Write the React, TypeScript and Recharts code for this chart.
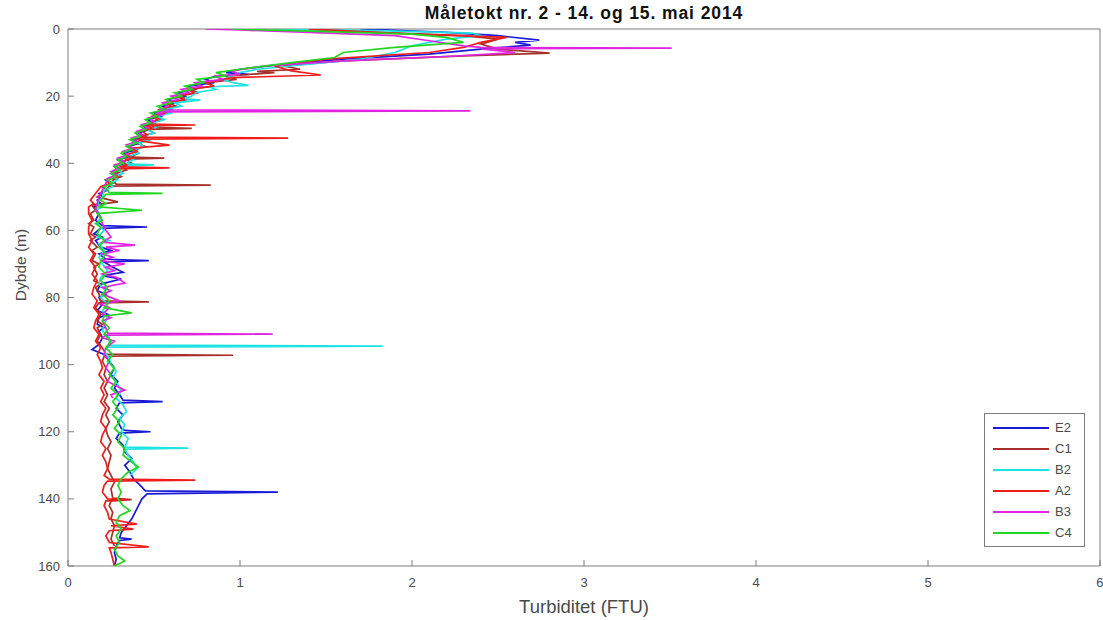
import React from 'react';
import { ScatterChart, Scatter, XAxis, YAxis, Legend, Label } from 'recharts';

const TITLE = 'Måletokt nr. 2 - 14. og 15. mai 2014';
const X_LABEL = 'Turbiditet (FTU)';
const Y_LABEL = 'Dybde (m)';
const X_TICKS = [0, 1, 2, 3, 4, 5, 6];
const Y_TICKS = [0, 20, 40, 60, 80, 100, 120, 140, 160];

// [depth (m), turbidity (FTU)]
const E2: [number, number][] = [
  [0, 1.7], [1, 2.2], [2, 2.5], [3.3, 2.74], [4, 2.6], [4.8, 2.69], [6, 2.4], [7.5, 2.1], [9, 1.6], [10.5, 1.25],
  [12, 1.0], [13, 0.92], [13.5, 1.05], [14, 0.86], [15, 0.8], [16, 0.85], [17, 0.7], [18, 0.74], [19, 0.64], [20, 0.68],
  [21, 0.58], [22, 0.62], [23, 0.55], [24, 0.6], [25, 0.5], [26, 0.54], [27, 0.46], [28, 0.5], [29, 0.44], [30, 0.47],
  [31, 0.41], [32, 0.45], [33, 0.38], [34, 0.42], [35, 0.35], [36, 0.4], [37, 0.32], [38, 0.36], [39, 0.29], [40, 0.33],
  [41, 0.27], [42, 0.3], [43, 0.25], [44, 0.28], [45, 0.22], [46, 0.26], [47, 0.2], [48, 0.23], [49, 0.18], [50, 0.2],
  [51, 0.17], [52, 0.19], [53, 0.15], [55, 0.18], [57, 0.16], [58.6, 0.2], [59, 0.46], [59.4, 0.19], [61, 0.15], [62, 0.2],
  [63, 0.16], [65, 0.19], [66, 0.25], [67, 0.18], [68.6, 0.22], [69, 0.47], [69.4, 0.21], [71, 0.26], [72.5, 0.32], [73.5, 0.2],
  [74.5, 0.31], [76, 0.19], [78, 0.17], [79, 0.22], [80, 0.18], [82, 0.2], [84, 0.17], [85, 0.23], [86, 0.18], [88, 0.17],
  [89, 0.21], [90, 0.18], [92, 0.2], [94, 0.18], [95.5, 0.14], [97, 0.21], [99, 0.24], [101, 0.27], [103, 0.25], [105, 0.29],
  [107, 0.27], [109, 0.3], [110.6, 0.32], [111, 0.55], [111.4, 0.3], [113, 0.28], [115, 0.32], [117, 0.29], [119, 0.31], [119.6, 0.33],
  [120, 0.48], [120.4, 0.3], [122, 0.28], [124, 0.32], [126, 0.33], [128, 0.37], [130, 0.33], [132, 0.36], [134, 0.38], [136, 0.42],
  [137.6, 0.45], [138, 1.22], [138.5, 0.46], [140, 0.43], [142, 0.41], [144, 0.39], [146, 0.37], [148, 0.34], [150, 0.31], [151.6, 0.3],
  [152, 0.37], [152.4, 0.3], [154, 0.28], [156, 0.27], [158, 0.28], [160, 0.27],
];

const C1: [number, number][] = [
  [0, 1.3], [1, 1.8], [2, 2.3], [3, 2.5], [4.5, 2.4], [6, 2.5], [7.2, 2.8], [8, 2.3], [9.5, 1.6], [11, 1.25],
  [12, 1.35], [12.6, 1.1], [13, 1.2], [14, 0.92], [15, 0.98], [16, 0.8], [17, 0.85], [18, 0.7], [19, 0.76], [20, 0.64],
  [21, 0.7], [22, 0.58], [23, 0.63], [24, 0.54], [25, 0.58], [26, 0.5], [27, 0.55], [28, 0.48], [29.3, 0.5], [29.6, 0.72],
  [29.9, 0.46], [31, 0.5], [32, 0.42], [33, 0.47], [34, 0.4], [35, 0.45], [36, 0.37], [37, 0.41], [38.2, 0.36], [38.5, 0.56],
  [38.8, 0.34], [40, 0.37], [41, 0.31], [42, 0.34], [43, 0.28], [44, 0.31], [45, 0.26], [46.2, 0.28], [46.5, 0.83], [46.8, 0.24],
  [48, 0.22], [49, 0.2], [50, 0.17], [51.5, 0.29], [52.5, 0.14], [54, 0.16], [55, 0.13], [57, 0.15], [58, 0.12], [59, 0.15],
  [61, 0.13], [62, 0.16], [63, 0.13], [65, 0.17], [66, 0.14], [67, 0.16], [69, 0.14], [70, 0.18], [71, 0.15], [73, 0.17],
  [75, 0.15], [76, 0.19], [77, 0.16], [79, 0.18], [81, 0.19], [81.3, 0.47], [81.6, 0.18], [83, 0.16], [85, 0.19], [87, 0.17],
  [88, 0.2], [89, 0.17], [91, 0.19], [93, 0.17], [95, 0.2], [96.9, 0.22], [97.2, 0.96], [97.5, 0.21], [99, 0.2], [101, 0.22],
  [103, 0.21], [105, 0.23], [107, 0.21], [109, 0.23], [111, 0.21], [113, 0.24], [115, 0.22], [117, 0.24], [119, 0.22], [121, 0.23],
  [123, 0.25], [125, 0.23], [127, 0.25], [129, 0.24], [131, 0.23], [133, 0.25], [135, 0.27], [137, 0.25], [139.8, 0.26], [140.2, 0.37],
  [140.6, 0.25], [142, 0.24], [144, 0.26], [146, 0.25], [148, 0.27], [150, 0.26], [152, 0.25], [154, 0.27],
];

const B2: [number, number][] = [
  [0, 1.2], [0.5, 1.8], [1.2, 2.35], [2, 2.4], [3, 2.2], [5, 2.0], [7, 1.9], [9, 1.7], [10.5, 1.4], [12, 1.1],
  [13, 1.0], [14, 0.95], [15, 0.9], [16, 0.96], [16.8, 1.05], [17.2, 0.82], [18, 0.86], [19, 0.74], [20, 0.72], [20.8, 0.68],
  [21.2, 0.77], [22, 0.62], [23, 0.66], [24, 0.56], [25, 0.6], [26, 0.52], [27, 0.56], [28, 0.49], [29, 0.53], [30, 0.46],
  [31, 0.5], [32, 0.43], [33, 0.47], [34, 0.41], [35, 0.44], [36, 0.38], [37, 0.41], [38, 0.35], [39, 0.38], [40.2, 0.33],
  [40.5, 0.5], [40.8, 0.32], [42, 0.29], [43, 0.32], [44, 0.27], [45, 0.29], [46, 0.24], [47, 0.26], [48, 0.21], [50, 0.2],
  [52, 0.17], [53, 0.2], [54, 0.16], [56, 0.19], [58, 0.17], [60, 0.21], [62, 0.17], [63, 0.24], [64, 0.18], [66, 0.21],
  [68, 0.18], [70, 0.2], [72, 0.23], [74, 0.19], [76, 0.18], [78, 0.22], [80, 0.19], [82, 0.23], [84, 0.2], [86, 0.23],
  [88, 0.21], [90, 0.2], [92, 0.24], [94.2, 0.24], [94.5, 1.83], [94.8, 0.23], [96, 0.21], [98, 0.24], [100, 0.25], [102, 0.28],
  [104, 0.26], [106, 0.29], [108, 0.31], [110, 0.28], [112, 0.32], [114, 0.34], [116, 0.3], [118, 0.33], [120, 0.31], [122, 0.35],
  [124.6, 0.33], [124.9, 0.7], [125.2, 0.33], [127, 0.35], [129, 0.38], [131, 0.4], [133, 0.36],
];

const A2: [number, number][] = [
  [0, 1.4], [1.5, 2.0], [2.5, 2.55], [4, 2.4], [5.5, 2.3], [7, 2.1], [9, 1.5], [11, 1.2], [12.5, 1.3], [13.7, 1.47],
  [14.5, 0.95], [15.5, 0.86], [16, 0.8], [17, 0.84], [18, 0.7], [19, 0.73], [20, 0.63], [21, 0.67], [22, 0.57], [23, 0.6],
  [24, 0.53], [25, 0.56], [26, 0.49], [27, 0.52], [28.3, 0.47], [28.6, 0.74], [28.9, 0.45], [29.5, 0.49], [30.5, 0.43], [31.5, 0.46],
  [32.2, 0.41], [32.5, 1.28], [32.8, 0.4], [33.5, 0.44], [34.6, 0.59], [35.5, 0.37], [36.5, 0.4], [37.5, 0.34], [38.5, 0.37], [39.5, 0.31],
  [40.5, 0.34], [41.1, 0.3], [41.4, 0.59], [41.7, 0.28], [43, 0.26], [44, 0.29], [45, 0.22], [46, 0.24], [47, 0.19], [49, 0.16],
  [51, 0.13], [52, 0.15], [53, 0.12], [55, 0.12], [57, 0.14], [59, 0.12], [61, 0.12], [63, 0.14], [65, 0.12], [67, 0.15],
  [69, 0.13], [71, 0.16], [73, 0.14], [75, 0.17], [77, 0.15], [79, 0.14], [81, 0.17], [83, 0.15], [85, 0.18], [87, 0.16],
  [89, 0.15], [91, 0.18], [93, 0.16], [95, 0.19], [97, 0.17], [99, 0.19], [101, 0.2], [103, 0.18], [105, 0.21], [107, 0.19],
  [109, 0.21], [111, 0.19], [113, 0.22], [115, 0.2], [117, 0.19], [119, 0.22], [121, 0.2], [123, 0.19], [125, 0.22], [127, 0.2],
  [129, 0.22], [131, 0.23], [133, 0.21], [134.1, 0.24], [134.4, 0.74], [134.7, 0.23], [136, 0.21], [138, 0.2], [140, 0.23], [140.3, 0.34],
  [140.6, 0.22], [142, 0.21], [144, 0.23], [146, 0.24], [147.5, 0.4], [148, 0.25], [149, 0.38], [149.5, 0.24], [151, 0.22], [153, 0.24],
  [154.3, 0.47], [154.6, 0.24], [156, 0.25], [158, 0.26], [160, 0.27],
];

const B3: [number, number][] = [
  [0, 0.8], [0.3, 1.0], [1, 1.4], [2, 1.9], [3.5, 2.1], [5, 2.3], [5.5, 2.4], [5.7, 3.51], [5.9, 2.4], [7, 2.6],
  [8.2, 2.2], [9.5, 1.6], [11, 1.15], [12, 1.02], [12.5, 0.95], [13.5, 1.0], [14, 0.85], [15, 0.9], [16, 0.74], [17, 0.78],
  [18, 0.66], [19, 0.7], [20, 0.6], [21, 0.64], [22, 0.55], [23, 0.58], [24.1, 0.53], [24.4, 2.34], [24.7, 0.51], [25.5, 0.55],
  [26.5, 0.47], [27.5, 0.5], [28.5, 0.43], [29.5, 0.46], [30.5, 0.4], [31.5, 0.43], [32.5, 0.37], [33.5, 0.4], [34.5, 0.34], [35.5, 0.38],
  [36.5, 0.32], [37.5, 0.35], [38.5, 0.29], [39.5, 0.33], [40.5, 0.27], [41.5, 0.3], [42.5, 0.25], [43.5, 0.28], [44.5, 0.23], [46, 0.22],
  [48, 0.2], [50, 0.18], [52, 0.17], [54, 0.16], [56, 0.19], [58, 0.2], [60, 0.22], [62, 0.25], [63.5, 0.2], [64.4, 0.39],
  [65, 0.22], [66, 0.3], [67, 0.2], [68, 0.26], [69, 0.19], [70, 0.33], [71, 0.22], [72, 0.27], [73, 0.2], [74, 0.28],
  [75.7, 0.33], [77, 0.2], [78, 0.25], [79, 0.2], [81, 0.3], [82, 0.19], [83, 0.24], [85, 0.2], [86, 0.25], [87, 0.2],
  [89, 0.22], [90.6, 0.23], [90.9, 1.19], [91.2, 0.22], [92, 0.2], [93, 0.27], [95, 0.22], [97, 0.21], [99, 0.24], [101, 0.22],
  [103, 0.25], [105, 0.23], [107.6, 0.33], [109, 0.25], [110, 0.26],
];

const C4: [number, number][] = [
  [0, 0.95], [0.5, 1.3], [1.5, 2.0], [2.5, 2.2], [4, 2.3], [5.5, 1.9], [7, 1.6], [8.5, 1.55], [10, 1.3], [12, 1.0],
  [13, 0.86], [14, 0.92], [15, 0.75], [16, 0.79], [17, 0.68], [18, 0.72], [19, 0.62], [20, 0.66], [21, 0.57], [22, 0.6],
  [23, 0.52], [24, 0.56], [25, 0.48], [26, 0.52], [27, 0.45], [28, 0.48], [29, 0.42], [30, 0.45], [31, 0.39], [32, 0.42],
  [33, 0.36], [34, 0.4], [35, 0.34], [36, 0.37], [37, 0.31], [38, 0.34], [39, 0.29], [40, 0.32], [41, 0.27], [42, 0.3],
  [43, 0.25], [44, 0.28], [45, 0.23], [46, 0.26], [47, 0.21], [48.7, 0.24], [49, 0.55], [49.3, 0.22], [51, 0.19], [52, 0.22],
  [53, 0.18], [54, 0.43], [55, 0.17], [57, 0.2], [58, 0.16], [59, 0.19], [61, 0.17], [63, 0.21], [65, 0.18], [67, 0.22],
  [69, 0.19], [71, 0.18], [73, 0.22], [75, 0.19], [77, 0.23], [79, 0.2], [81, 0.24], [83, 0.21], [84.6, 0.37], [85.5, 0.21],
  [87, 0.2], [89, 0.24], [91, 0.21], [93, 0.25], [95, 0.22], [97, 0.26], [99, 0.23], [101, 0.27], [103, 0.24], [105, 0.28],
  [107, 0.25], [109, 0.29], [111, 0.26], [113, 0.29], [115, 0.26], [117, 0.3], [119, 0.27], [121, 0.31], [123, 0.29], [125, 0.33],
  [127, 0.32], [129, 0.37], [130.5, 0.41], [132, 0.35], [134, 0.31], [136, 0.29], [138, 0.31], [140, 0.29], [142, 0.32], [143.5, 0.36],
  [145, 0.3], [147, 0.28], [149, 0.31], [151, 0.28], [153, 0.3], [155, 0.27], [157, 0.29], [158.5, 0.33], [160, 0.27],
];

const SERIES = [
  { name: 'E2', color: '#1a1ad6', data: E2 },
  { name: 'C1', color: '#a8302a', data: C1 },
  { name: 'B2', color: '#1ee3e3', data: B2 },
  { name: 'A2', color: '#f01c1c', data: A2 },
  { name: 'B3', color: '#e024e0', data: B3 },
  { name: 'C4', color: '#22d622', data: C4 },
];

const FONT = '"Liberation Sans", Arial, Helvetica, sans-serif';
const AXIS_COLOR = '#7d7d7d';
const TEXT_COLOR = '#4a4a4a';

const NoShape = () => <g />;

const LegendBox = () => (
  <div
    style={{
      border: `1px solid ${AXIS_COLOR}`,
      background: '#fff',
      padding: '3px 0',
      fontFamily: FONT,
      fontSize: 13,
      color: TEXT_COLOR,
      boxSizing: 'border-box',
      width: 101,
    }}
  >
    {SERIES.map((s) => (
      <div key={s.name} style={{ display: 'flex', alignItems: 'center', height: 21 }}>
        <svg width={66} height={10} style={{ display: 'block' }}>
          <line x1={8} x2={64} y1={5} y2={5} stroke={s.color} strokeWidth={1.8} />
        </svg>
        <span style={{ marginLeft: 4 }}>{s.name}</span>
      </div>
    ))}
  </div>
);

const YLabel = () => (
  <text
    x={20}
    y={265}
    transform="rotate(-90 20 265)"
    textAnchor="middle"
    dominantBaseline="central"
    fill={TEXT_COLOR}
    fontSize={15.5}
    fontFamily={FONT}
  >
    {Y_LABEL}
  </text>
);

const TitleText = () => (
  <text
    x={584}
    y={19}
    textAnchor="middle"
    fill="#111"
    fontSize={17.5}
    fontWeight="bold"
    letterSpacing={0.9}
    fontFamily={FONT}
  >
    {TITLE}
  </text>
);

export default function App() {
  return (
    <div style={{ position: 'absolute', left: 0, top: 0, width: 1103, height: 620, background: '#fff' }}>
      <ScatterChart
        width={1103}
        height={620}
        margin={{ top: 0, right: 0, bottom: 0, left: 0 }}
        style={{ fontFamily: FONT }}
      >
        <XAxis
          xAxisId="bottom"
          type="number"
          dataKey="ftu"
          domain={[0, 6]}
          ticks={X_TICKS}
          allowDataOverflow
          height={54}
          tickSize={-6}
          tickMargin={18}
          stroke={AXIS_COLOR}
          tick={{ fill: TEXT_COLOR, fontSize: 13 }}
        >
          <Label value={X_LABEL} position="insideBottom" offset={7} fill={TEXT_COLOR} fontSize={18.5} />
        </XAxis>
        <XAxis
          xAxisId="top"
          orientation="top"
          type="number"
          dataKey="ftu"
          domain={[0, 6]}
          ticks={X_TICKS}
          allowDataOverflow
          height={29}
          tickSize={-6}
          tick={false}
          stroke={AXIS_COLOR}
        >
          <Label content={<TitleText />} />
        </XAxis>
        <YAxis
          yAxisId="left"
          type="number"
          dataKey="depth"
          domain={[0, 160]}
          reversed
          ticks={Y_TICKS}
          allowDataOverflow
          width={68}
          tickSize={-6}
          tickMargin={14}
          stroke={AXIS_COLOR}
          tick={{ fill: TEXT_COLOR, fontSize: 13 }}
        >
          <Label content={<YLabel />} />
        </YAxis>
        <YAxis
          yAxisId="right"
          orientation="right"
          type="number"
          dataKey="depth"
          domain={[0, 160]}
          reversed
          ticks={Y_TICKS}
          allowDataOverflow
          width={3}
          tickSize={-6}
          tick={false}
          stroke={AXIS_COLOR}
        />
        {SERIES.map((s) => (
          <Scatter
            key={s.name}
            name={s.name}
            xAxisId="bottom"
            yAxisId="left"
            data={s.data.map(([d, v]) => ({ depth: d, ftu: v }))}
            fill={s.color}
            line={{ stroke: s.color, strokeWidth: 1.7 }}
            lineJointType="linear"
            shape={NoShape}
            legendType="line"
            isAnimationActive={false}
          />
        ))}
        <Legend
          layout="vertical"
          align="center"
          verticalAlign="middle"
          content={() => <LegendBox />}
          wrapperStyle={{ left: 984, top: 413, width: 101 }}
        />
      </ScatterChart>
    </div>
  );
}
